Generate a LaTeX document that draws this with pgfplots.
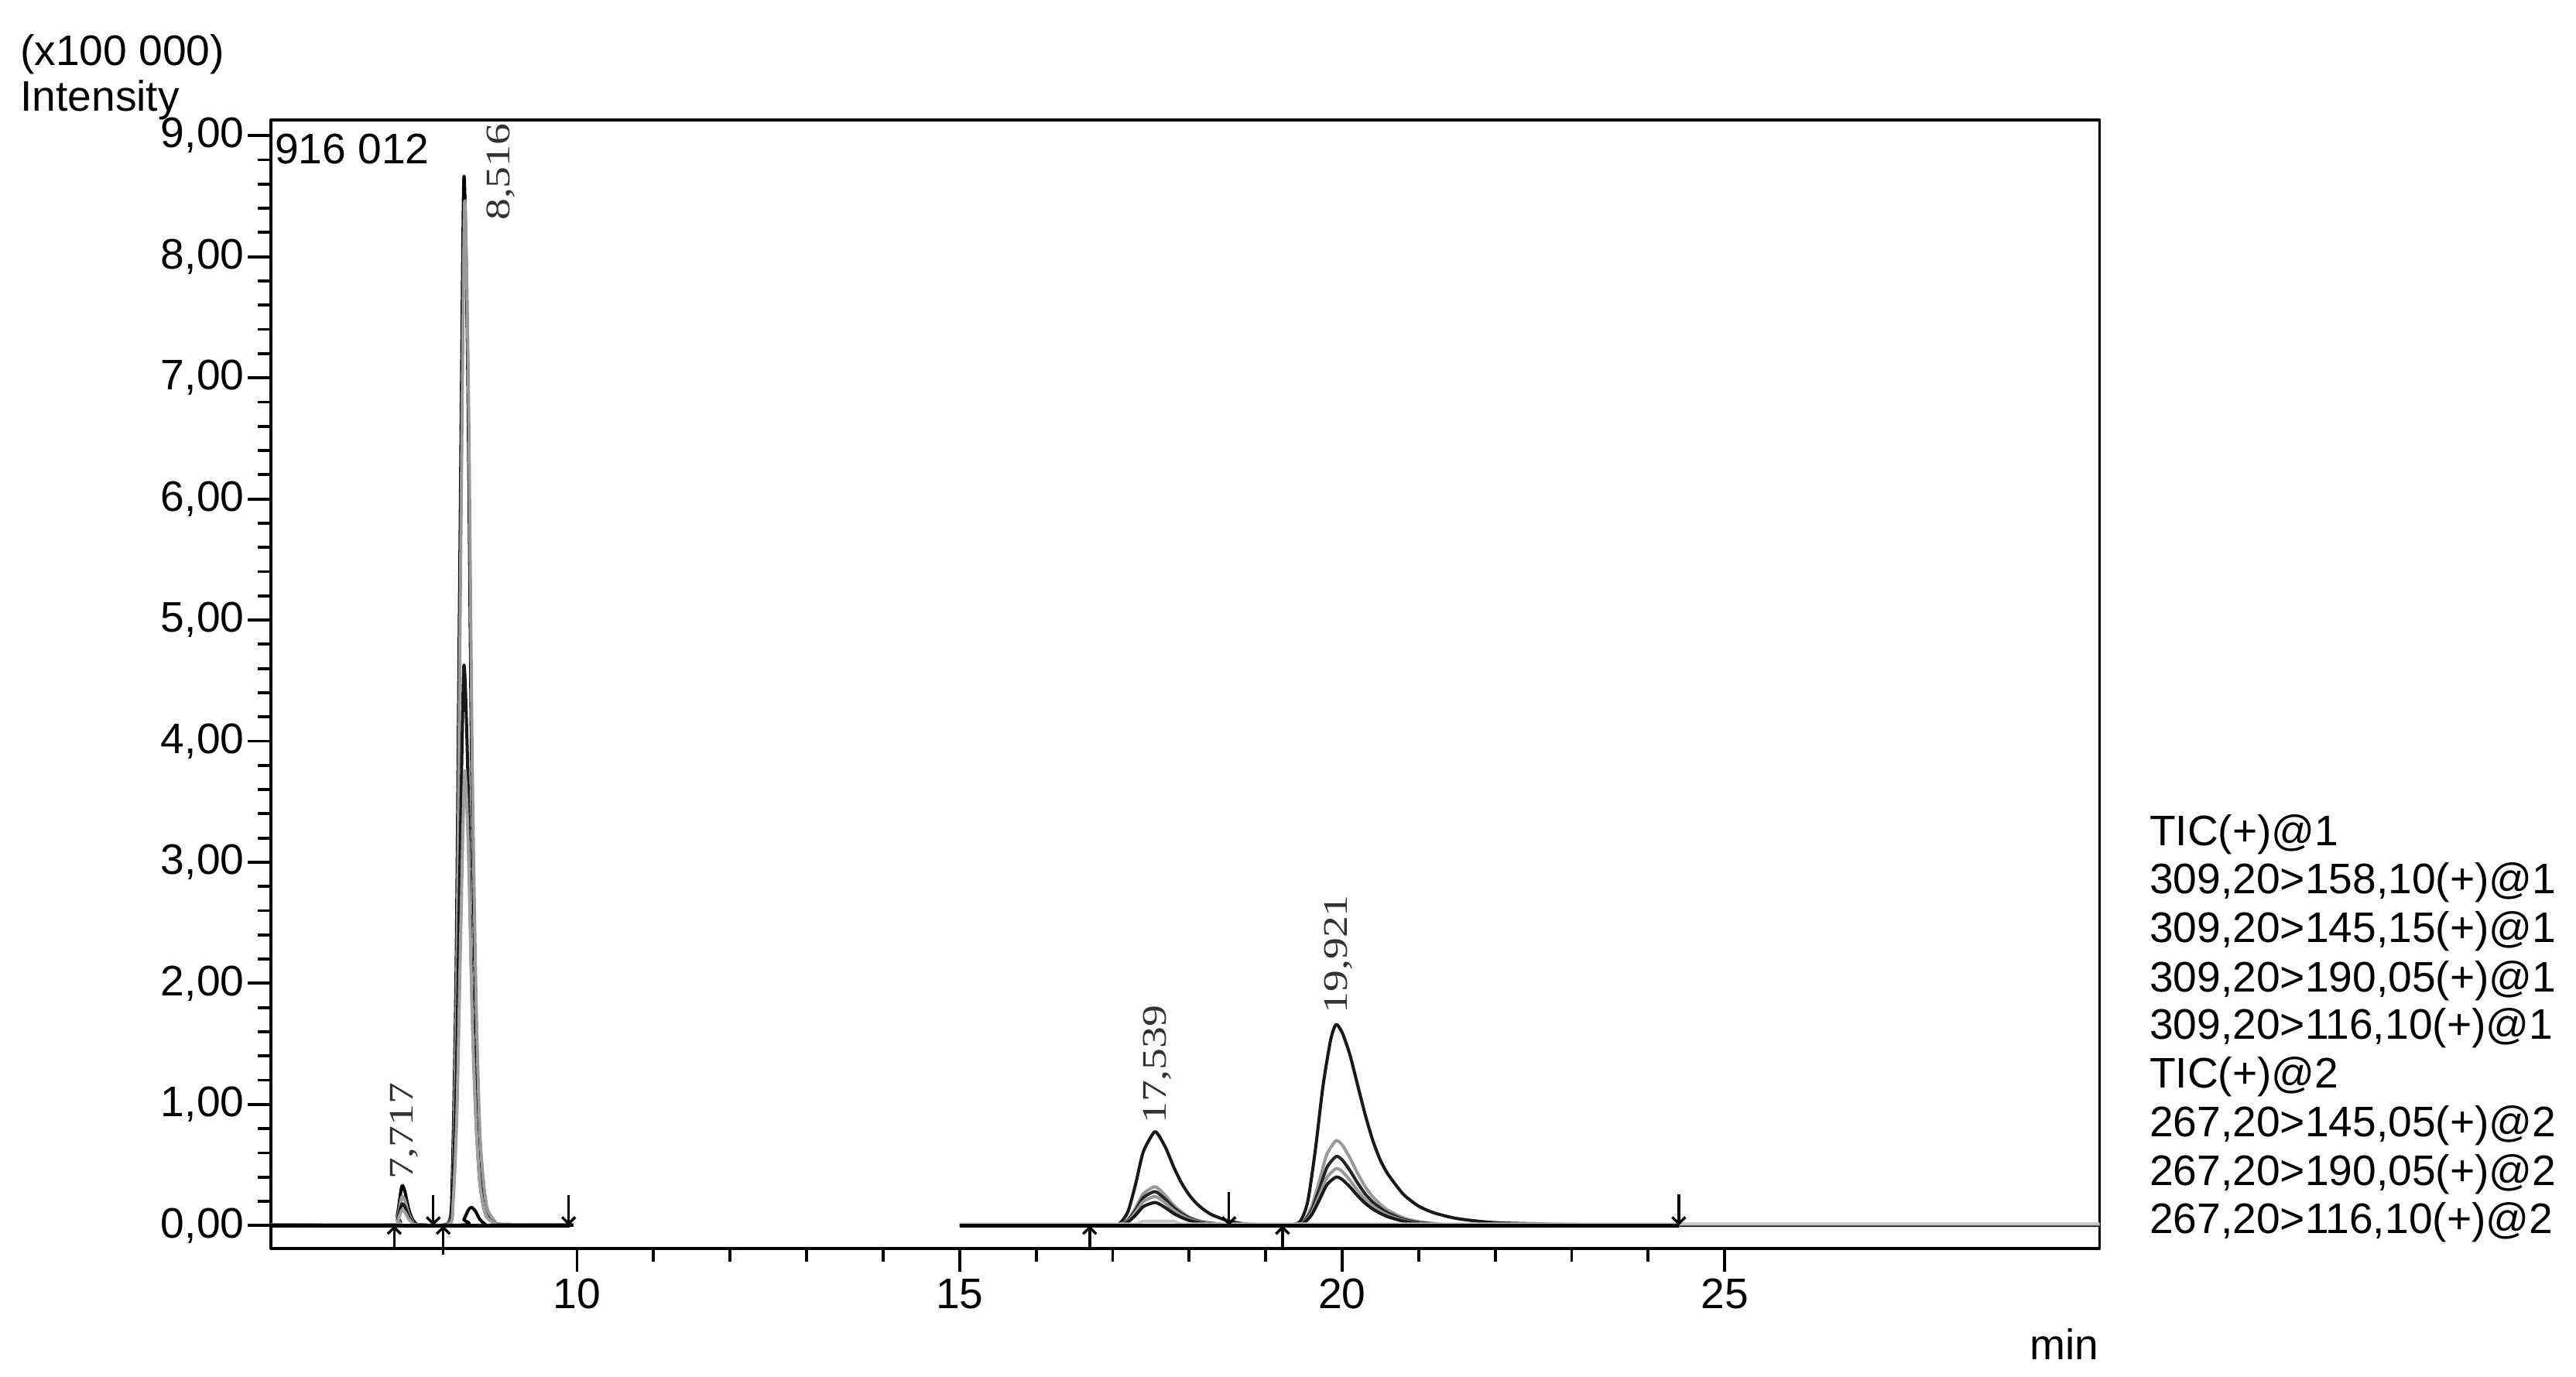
\documentclass[border=0pt]{standalone}
\usepackage{pgfplots}
\pgfplotsset{compat=1.18}
\usepackage{fontspec}
\setmainfont{Liberation Sans}
\newfontfamily\peakfont[FakeStretch=1.25]{Liberation Serif}
\usetikzlibrary{arrows.meta}

\begin{document}
\begin{tikzpicture}[line join=round, line cap=round]
\begin{axis}[
    name=ax,
    scale only axis,
    width=556.5pt, height=343.5pt,
    xmin=6, xmax=29.9,
    ymin=-0.19, ymax=9.13,
    clip=false,
    axis line style={line width=0.9pt},
    tick style={black, line width=0.9pt},
    tick align=outside,
    tick pos=left,
    major tick length=7pt,
    minor tick length=4pt,
    xtick={10,15,20,25},
    minor x tick num=4,
    ytick={0,1,...,9},
    minor y tick num=4,
    /pgf/number format/assume math mode=true,
    ticklabel style={font=\fontsize{13}{15}\selectfont},
    yticklabel style={inner sep=1pt, /pgf/number format/.cd, fixed, fixed zerofill, precision=2, use comma},
    xticklabel style={inner sep=2pt, /pgf/number format/.cd, fixed, precision=0},
    every axis plot/.append style={line width=0.95pt},
  ]

  % segment 1 (6 - 9.9 min)
  \addplot[black, smooth, tension=0.4] coordinates {
    (6,0.005) (7.6,0.005) (7.65,0.083) (7.70,0.297) (7.72,0.33) (7.75,0.28) (7.80,0.132)
    (7.85,0.05) (7.90,0.013) (7.95,0.005) (8.32,0.026) (8.37,0.43) (8.42,2.16) (8.47,5.62)
    (8.52,8.65) (8.57,7.09) (8.62,3.89) (8.67,1.90) (8.72,0.78) (8.77,0.35) (8.82,0.13)
    (8.92,0.035) (9.0,0.01) (9.95,0.005)
  };
  \addplot[gray!80, smooth, tension=0.4] coordinates {
    (6,0.008) (7.6,0.008) (7.65,0.06) (7.70,0.216) (7.72,0.24) (7.75,0.204) (7.80,0.096)
    (7.85,0.036) (7.90,0.01) (8.33,0.03) (8.38,0.45) (8.43,2.2) (8.48,5.6) (8.53,8.45)
    (8.58,6.9) (8.63,3.8) (8.68,1.86) (8.73,0.76) (8.78,0.34) (8.83,0.13) (8.93,0.03)
    (9.0,0.01) (9.95,0.008)
  };
  \addplot[black!90, smooth, tension=0.4] coordinates {
    (6,0.004) (7.6,0.004) (7.65,0.045) (7.70,0.162) (7.72,0.18) (7.75,0.153) (7.80,0.072)
    (7.85,0.027) (7.90,0.007) (8.32,0.014) (8.37,0.23) (8.42,1.16) (8.47,3.0) (8.52,4.62)
    (8.57,3.79) (8.62,2.08) (8.67,1.02) (8.72,0.42) (8.77,0.18) (8.82,0.07) (8.92,0.02)
    (9.0,0.006) (9.95,0.004)
  };
  \addplot[gray!75, smooth, tension=0.4] coordinates {
    (6,0.006) (7.6,0.006) (7.65,0.033) (7.70,0.117) (7.72,0.13) (7.75,0.11) (7.80,0.052)
    (7.85,0.02) (7.90,0.006) (8.33,0.011) (8.38,0.19) (8.43,0.94) (8.48,2.44) (8.53,3.75)
    (8.58,3.08) (8.63,1.69) (8.68,0.83) (8.73,0.34) (8.78,0.15) (8.83,0.06) (8.93,0.015)
    (9.0,0.006) (9.95,0.006)
  };
  \addplot[black, smooth, tension=0.4] coordinates {
    (6,0.003) (8.45,0.003) (8.52,0.05) (8.58,0.13) (8.62,0.15) (8.67,0.12) (8.73,0.05)
    (8.80,0.01) (8.85,0.003) (9.95,0.003)
  };

  % segment 2 (15 - 29.9 min)
  \addplot[black!90, smooth, tension=0.4] coordinates {
    (15,0.004) (16.0,0.004) (17.0,0.006) (17.1,0.023) (17.2,0.114) (17.3,0.342) (17.4,0.608)
    (17.54,0.77) (17.6,0.747) (17.7,0.633) (17.8,0.481) (17.9,0.352) (18.0,0.253) (18.1,0.180)
    (18.2,0.127) (18.3,0.088) (18.5,0.040) (18.7,0.016) (19.0,0.005) (19.3,0.003) (19.45,0.033)
    (19.55,0.198) (19.65,0.627) (19.75,1.155) (19.85,1.535) (19.92,1.66) (20.0,1.594)
    (20.1,1.413) (20.2,1.165) (20.3,0.918) (20.4,0.703) (20.5,0.538) (20.6,0.423) (20.8,0.258)
    (21.0,0.16) (21.2,0.105) (21.5,0.058) (22.0,0.024) (23.0,0.009) (24.0,0.005) (29.9,0.004)
  };
  \addplot[gray!80, smooth, tension=0.4] coordinates {
    (15,0.006) (17.0,0.006) (17.1,0.01) (17.2,0.048) (17.3,0.144) (17.4,0.262) (17.54,0.32)
    (17.6,0.304) (17.7,0.24) (17.8,0.166) (17.9,0.112) (18.0,0.070) (18.1,0.045) (18.2,0.029)
    (18.4,0.013) (18.6,0.006) (19.4,0.004) (19.5,0.035) (19.6,0.154) (19.7,0.364) (19.8,0.588)
    (19.92,0.70) (20.0,0.665) (20.1,0.56) (20.2,0.434) (20.3,0.322) (20.4,0.238) (20.5,0.175)
    (20.6,0.126) (20.8,0.063) (21.0,0.032) (21.3,0.011) (21.6,0.006) (29.9,0.006)
  };
  \addplot[black!85, smooth, tension=0.4] coordinates {
    (15,0.003) (17.0,0.003) (17.1,0.008) (17.2,0.042) (17.3,0.126) (17.4,0.230) (17.54,0.28)
    (17.6,0.266) (17.7,0.21) (17.8,0.146) (17.9,0.098) (18.0,0.062) (18.1,0.039) (18.2,0.025)
    (18.4,0.011) (18.6,0.004) (19.4,0.003) (19.5,0.029) (19.6,0.125) (19.7,0.296) (19.8,0.479)
    (19.92,0.57) (20.0,0.542) (20.1,0.456) (20.2,0.353) (20.3,0.262) (20.4,0.194) (20.5,0.143)
    (20.6,0.103) (20.8,0.051) (21.0,0.026) (21.3,0.009) (21.6,0.003) (29.9,0.003)
  };
  \addplot[gray!80, smooth, tension=0.4] coordinates {
    (15,0.005) (17.0,0.005) (17.1,0.007) (17.2,0.036) (17.3,0.108) (17.4,0.197) (17.54,0.24)
    (17.6,0.228) (17.7,0.18) (17.8,0.125) (17.9,0.084) (18.0,0.053) (18.1,0.034) (18.2,0.022)
    (18.4,0.010) (18.6,0.005) (19.4,0.005) (19.5,0.024) (19.6,0.103) (19.7,0.244) (19.8,0.395)
    (19.92,0.47) (20.0,0.447) (20.1,0.376) (20.2,0.291) (20.3,0.216) (20.4,0.160) (20.5,0.118)
    (20.6,0.085) (20.8,0.042) (21.0,0.021) (21.3,0.007) (21.6,0.005) (29.9,0.005)
  };
  \addplot[black!90, smooth, tension=0.4] coordinates {
    (15,0.002) (17.0,0.002) (17.1,0.004) (17.2,0.029) (17.3,0.086) (17.4,0.156) (17.54,0.19)
    (17.6,0.181) (17.7,0.143) (17.8,0.099) (17.9,0.067) (18.0,0.042) (18.1,0.027) (18.2,0.017)
    (18.4,0.008) (18.6,0.003) (19.4,0.002) (19.5,0.02) (19.6,0.088) (19.7,0.208) (19.8,0.336)
    (19.92,0.40) (20.0,0.38) (20.1,0.32) (20.2,0.248) (20.3,0.184) (20.4,0.136) (20.5,0.10)
    (20.6,0.072) (20.8,0.036) (21.0,0.018) (21.3,0.006) (21.6,0.002) (29.9,0.002)
  };
  \addplot[gray!45] coordinates {
    (15,0.012) (17.3,0.012) (17.4,0.035) (17.8,0.035) (17.9,0.012) (29.9,0.012)
  };

  % integration baselines
  \addplot[black, line width=1.2pt] coordinates {(6,0) (9.9,0)};
  \addplot[black, line width=1.2pt] coordinates {(15,0) (24.4,0)};

  % peak start / end markers
  \addplot[black, line width=0.8pt, -{Straight Barb[length=2pt,width=4pt]}] coordinates {(8.12,0.25) (8.12,0)};
  \addplot[black, line width=0.8pt, -{Straight Barb[length=2pt,width=4pt]}] coordinates {(9.89,0.25) (9.89,0)};
  \addplot[black, line width=0.8pt, -{Straight Barb[length=2pt,width=4pt]}] coordinates {(18.52,0.28) (18.52,0)};
  \addplot[black, line width=0.8pt, -{Straight Barb[length=2pt,width=4pt]}] coordinates {(24.40,0.26) (24.40,0)};
  \addplot[black, line width=0.8pt, -{Straight Barb[length=2pt,width=4pt]}] coordinates {(7.61,-0.19) (7.61,0)};
  \addplot[black, line width=0.8pt, -{Straight Barb[length=2pt,width=4pt]}] coordinates {(8.25,-0.24) (8.25,0)};
  \addplot[black, line width=0.8pt, -{Straight Barb[length=2pt,width=4pt]}] coordinates {(16.70,-0.19) (16.70,0)};
  \addplot[black, line width=0.8pt, -{Straight Barb[length=2pt,width=4pt]}] coordinates {(19.22,-0.19) (19.22,0)};

  % peak labels
  \node[rotate=90, font=\peakfont\fontsize{10.5}{12}\selectfont, text=black!80, inner sep=0pt] at (axis cs:7.74,0.78) {7,717};
  \node[rotate=90, font=\peakfont\fontsize{10.5}{12}\selectfont, text=black!80, inner sep=0pt] at (axis cs:9.0,8.70) {8,516};
  \node[rotate=90, font=\peakfont\fontsize{10.5}{12}\selectfont, text=black!80, inner sep=0pt] at (axis cs:17.58,1.33) {17,539};
  \node[rotate=90, font=\peakfont\fontsize{10.5}{12}\selectfont, text=black!80, inner sep=0pt] at (axis cs:19.95,2.24) {19,921};
\end{axis}

\node[anchor=north west, inner sep=1pt, font=\fontsize{13}{15}\selectfont] at ([yshift=-3pt]ax.north west) {916 012};

% trace list on the right
\foreach \r/\t in {0.367/{TIC(+)@1}, 0.324/{309,20>158,10(+)@1}, 0.281/{309,20>145,15(+)@1},
                   0.237/{309,20>190,05(+)@1}, 0.195/{309,20>116,10(+)@1}, 0.152/{TIC(+)@2},
                   0.109/{267,20>145,05(+)@2}, 0.066/{267,20>190,05(+)@2}, 0.023/{267,20>116,10(+)@2}} {
  \node[anchor=west, inner sep=0pt, font=\fontsize{13}{15}\selectfont] at ([xshift=15pt, yshift=\r*343.5pt]ax.south east) {\t};
}

\node[anchor=west, inner sep=0pt, font=\fontsize{13}{15}\selectfont] at ([xshift=-76.5pt, yshift=20pt]ax.north west) {(x100 000)};
\node[anchor=west, inner sep=0pt, font=\fontsize{13}{15}\selectfont] at ([xshift=-76.5pt, yshift=6pt]ax.north west) {Intensity};
\node[anchor=east, inner sep=0pt, font=\fontsize{13}{15}\selectfont] at ([yshift=-29pt]ax.south east) {min};

\pgfresetboundingbox
\path[use as bounding box] ([xshift=-82.5pt, yshift=-39pt]ax.south west) rectangle ([xshift=701.5pt, yshift=380pt]ax.south west);
\end{tikzpicture}
\end{document}
